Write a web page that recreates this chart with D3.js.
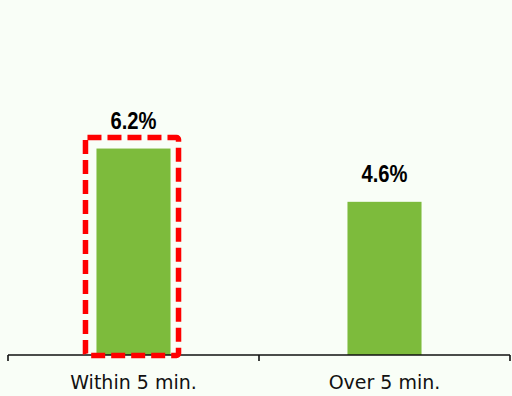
<!DOCTYPE html>
<html>
<head>
<meta charset="utf-8">
<script src="https://cdn.jsdelivr.net/npm/d3@7"></script>
<style>
html, body { margin: 0; padding: 0; background: #f9fef7; }
svg { display: block; }
</style>
</head>
<body>
<svg id="chart" width="512" height="396"></svg>
<script>
const categories = ["Within 5 min.", "Over 5 min."];
const values = [6.2, 4.6];
const valueLabels = ["6.2%", "4.6%"];
const highlighted = ["Within 5 min."];

const W = 512, H = 396;
const svg = d3.select("#chart");
svg.append("rect").attr("width", W).attr("height", H).attr("fill", "#f9fef7");

const x = d3.scaleBand().domain(categories).range([8, 510]).paddingInner(0.705).paddingOuter(0.3525);
const y = d3.scaleLinear().domain([0, 10]).range([355, 22]);

// bars
svg.selectAll("rect.bar").data(categories).enter().append("rect")
  .attr("class", "bar")
  .attr("x", d => x(d))
  .attr("width", x.bandwidth())
  .attr("y", (d, i) => y(values[i]))
  .attr("height", (d, i) => y(0) - y(values[i]))
  .attr("fill", "#7dbb3c");

// axis
const axis = d3.axisBottom(x).tickSize(0).tickFormat(d => d);
const gA = svg.append("g").attr("transform", `translate(0,${y(0)})`).call(axis);
gA.select(".domain").remove();
gA.selectAll("text").attr("dy", 0).attr("y", 34)
  .style("font-family", "'DejaVu Sans', sans-serif").style("font-size", "19px").attr("fill", "#111");
svg.append("line").attr("x1", 8).attr("x2", 510).attr("y1", y(0)).attr("y2", y(0))
  .attr("stroke", "#111").attr("stroke-width", 1.6);
// boundary ticks
const bounds = [x.range()[0], x.range()[0] + x.step(), x.range()[1]];
svg.selectAll("line.tk").data(bounds).enter().append("line")
  .attr("class", "tk")
  .attr("x1", d => d).attr("x2", d => d)
  .attr("y1", y(0)).attr("y2", y(0) + 6)
  .attr("stroke", "#111").attr("stroke-width", 1.6);

// value labels
svg.selectAll("text.vl").data(categories).enter().append("text")
  .attr("class", "vl")
  .attr("x", d => x(d) + x.bandwidth() / 2)
  .attr("y", (d, i) => y(values[i]) - 19.5)
  .attr("text-anchor", "middle")
  .style("font-family", "'Liberation Sans', Arial, sans-serif")
  .style("font-weight", "bold")
  .style("font-size", "24px")
  .attr("textLength", 46)
  .attr("lengthAdjust", "spacingAndGlyphs")
  .attr("fill", "#000")
  .text((d, i) => valueLabels[i]);

// highlight box
svg.selectAll("rect.hl").data(highlighted).enter().append("rect")
  .attr("class", "hl")
  .attr("x", d => x(d) - 11)
  .attr("width", x.bandwidth() + 19)
  .attr("y", d => y(values[categories.indexOf(d)]) - 11)
  .attr("height", d => y(0) - y(values[categories.indexOf(d)]) + 11.5)
  .attr("rx", 2)
  .attr("fill", "none")
  .attr("stroke", "#ff0000")
  .attr("stroke-width", 5.5)
  .attr("stroke-dasharray", "14,6");
</script>
</body>
</html>
